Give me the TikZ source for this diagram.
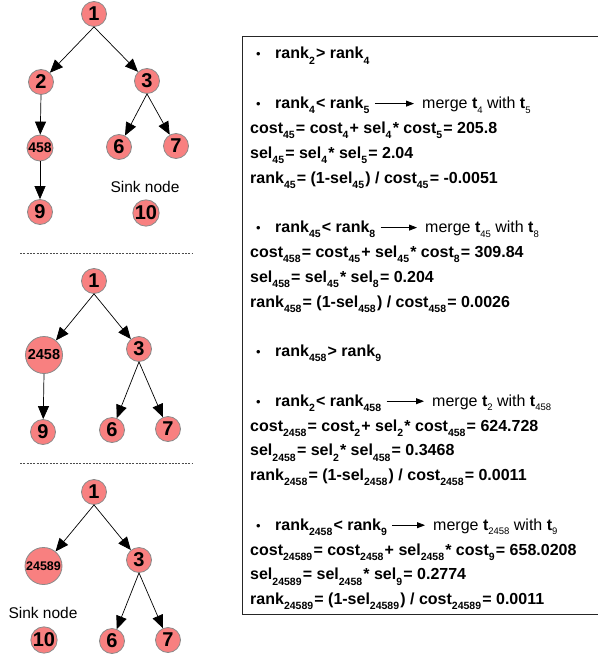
\documentclass[tikz,border=0pt]{standalone}
\usepackage{fontspec}
\setmainfont{Liberation Sans}
\usetikzlibrary{arrows.meta}
\definecolor{nodefill}{HTML}{F88080}
\definecolor{nodeline}{HTML}{8A8A8A}
\newcommand{\sbx}[1]{\raisebox{-5.2pt}{\fontsize{10.5}{10.5}\selectfont #1}\kern1.2pt}
\newcommand{\sbm}[1]{\raisebox{-4.5pt}{\fontsize{9.5}{9.5}\selectfont #1}}
\tikzset{
  tn/.style={circle, fill=nodefill, draw=nodeline, line width=0.8pt, minimum size=25pt, inner sep=0pt, font=\fontsize{20}{20}\selectfont\bfseries},
  tns/.style={tn, minimum size=26pt, font=\fontsize{14}{14}\selectfont\bfseries},
  tnb/.style={tn, minimum size=37pt, font=\fontsize{14.5}{14.5}\selectfont\bfseries},
  tnc/.style={tn, minimum size=37pt, font=\fontsize{12.5}{12.5}\selectfont\bfseries},
  edge/.style={-{Triangle[length=13pt,width=11pt]}, line width=0.7pt},
  sink/.style={font=\fontsize{15.5}{15.5}\selectfont},
  dashline/.style={draw=black!70, line width=0.7pt, dash pattern=on 2pt off 1.3pt},
  txt/.style={anchor=base west, inner sep=0pt, font=\fontsize{16}{16}\selectfont\bfseries},
  mtxt/.style={anchor=base west, inner sep=0pt, font=\fontsize{16}{16}\selectfont},
  bul/.style={anchor=base west, inner sep=0pt, font=\fontsize{13}{13}\selectfont},
  tarr/.style={-{Triangle[length=8pt,width=6pt]}, line width=0.8pt},
}
\begin{document}
\begin{tikzpicture}[x=1pt,y=1pt]
\useasboundingbox (0,0) rectangle (597,-655);
% ---------- tree 1
\node[tn] (a1) at (94,-14) {1};
\node[tn] (a2) at (41,-82) {2};
\node[tn] (a3) at (147,-81) {3};
\node[tns] (a458) at (40,-148) {458};
\node[tn] (a6) at (119,-147) {6};
\node[tn] (a7) at (176,-146) {7};
\node[tn] (a9) at (40,-212) {9};
\node[tn] (a10) at (146,-213) {10};
\node[sink] (as) at (145,-187) {Sink node};
\draw[edge] (a1.south) -- (a2);
\draw[edge] (a1.south) -- (a3);
\draw[edge] (a2.south) -- (a458);
\draw[edge] (a3.south) -- (a6);
\draw[edge] (a3.south) -- (a7);
\draw[edge] (a458.south) -- (a9);
\coordinate (d1l) at (20,-253);
\coordinate (d1r) at (192,-253);
\draw[dashline] (d1l) -- (d1r);
% ---------- tree 2
\node[tn] (b1) at (94,-281) {1};
\node[tnb] (b2) at (44,-355) {2458};
\node[tn] (b3) at (139,-349) {3};
\node[tn] (b9) at (43,-432) {9};
\node[tn] (b6) at (112,-430) {6};
\node[tn] (b7) at (168,-429) {7};
\draw[edge] (b1.south) -- (b2);
\draw[edge] (b1.south) -- (b3);
\draw[edge] (b2.south) -- (b9);
\draw[edge] (b3.south) -- (b6);
\draw[edge] (b3.south) -- (b7);
\coordinate (d2l) at (20,-463);
\coordinate (d2r) at (192,-463);
\draw[dashline] (d2l) -- (d2r);
% ---------- tree 3
\node[tn] (c1) at (94,-492) {1};
\node[tnc] (c2) at (43.5,-566) {24589};
\node[tn] (c3) at (139,-560) {3};
\node[sink] (cs) at (43,-613) {Sink node};
\node[tn] (c10) at (44,-640) {10};
\node[tn] (c6) at (112,-641) {6};
\node[tn] (c7) at (168,-640) {7};
\draw[edge] (c1.south) -- (c2);
\draw[edge] (c1.south) -- (c3);
\draw[edge] (c3.south) -- (c6);
\draw[edge] (c3.south) -- (c7);
% ---------- box
\draw[line width=0.9pt, draw=black!85] (242.5,-36.7) rectangle (640,-614);
% line 0
\node[bul] (p0) at (256,-59) {\textbullet};
\node[txt] (t0) at (275,-59) {rank\sbx{2}> rank\sbx{4}};
% block 2
\node[bul] (p2) at (256,-108.6) {\textbullet};
\node[txt] (t2) at (275,-108.6) {rank\sbx{4}< rank\sbx{5}};
\node[mtxt] (m2) at (422,-108.6) {merge \textbf{t}\sbm{4} with \textbf{t}\sbm{5}};
\draw[tarr] ([shift={(4pt,5pt)}]t2.base east) -- ([shift={(-8pt,5pt)}]m2.base west);
\node[txt] (t3) at (250,-133.4) {cost\sbx{45}= cost\sbx{4}+ sel\sbx{4}* cost\sbx{5}= 205.8};
\node[txt] (t4) at (250,-158.2) {sel\sbx{45}= sel\sbx{4}* sel\sbx{5}= 2.04};
\node[txt] (t5) at (250,-183) {rank\sbx{45}= (1-sel\sbx{45}) / cost\sbx{45}= -0.0051};
% block 3
\node[bul] (p7) at (256,-232.6) {\textbullet};
\node[txt] (t7) at (275,-232.6) {rank\sbx{45}< rank\sbx{8}};
\node[mtxt] (m7) at (425,-232.6) {merge \textbf{t}\sbm{45} with \textbf{t}\sbm{8}};
\draw[tarr] ([shift={(4pt,5pt)}]t7.base east) -- ([shift={(-8pt,5pt)}]m7.base west);
\node[txt] (t8) at (250,-257.4) {cost\sbx{458}= cost\sbx{45}+ sel\sbx{45}* cost\sbx{8}= 309.84};
\node[txt] (t9) at (250,-282.2) {sel\sbx{458}= sel\sbx{45}* sel\sbx{8}= 0.204};
\node[txt] (t10) at (250,-307) {rank\sbx{458}= (1-sel\sbx{458}) / cost\sbx{458}= 0.0026};
% block 4
\node[bul] (p12) at (256,-356.6) {\textbullet};
\node[txt] (t12) at (275,-356.6) {rank\sbx{458}> rank\sbx{9}};
% block 5
\node[bul] (p14) at (256,-406.2) {\textbullet};
\node[txt] (t14) at (275,-406.2) {rank\sbx{2}< rank\sbx{458}};
\node[mtxt] (m14) at (432,-406.2) {merge \textbf{t}\sbm{2} with \textbf{t}\sbm{458}};
\draw[tarr] ([shift={(4pt,5pt)}]t14.base east) -- ([shift={(-8pt,5pt)}]m14.base west);
\node[txt] (t15) at (250,-431) {cost\sbx{2458}= cost\sbx{2}+ sel\sbx{2}* cost\sbx{458}= 624.728};
\node[txt] (t16) at (250,-455.8) {sel\sbx{2458}= sel\sbx{2}* sel\sbx{458}= 0.3468};
\node[txt] (t17) at (250,-480.6) {rank\sbx{2458}= (1-sel\sbx{2458}) / cost\sbx{2458}= 0.0011};
% block 6
\node[bul] (p19) at (256,-530.2) {\textbullet};
\node[txt] (t19) at (275,-530.2) {rank\sbx{2458}< rank\sbx{9}};
\node[mtxt] (m19) at (433,-530.2) {merge \textbf{t}\sbm{2458} with \textbf{t}\sbm{9}};
\draw[tarr] ([shift={(4pt,5pt)}]t19.base east) -- ([shift={(-8pt,5pt)}]m19.base west);
\node[txt] (t20) at (250,-555) {cost\sbx{24589}= cost\sbx{2458}+ sel\sbx{2458}* cost\sbx{9}= 658.0208};
\node[txt] (t21) at (250,-579.8) {sel\sbx{24589}= sel\sbx{2458}* sel\sbx{9}= 0.2774};
\node[txt] (t22) at (250,-604.6) {rank\sbx{24589}= (1-sel\sbx{24589}) / cost\sbx{24589}= 0.0011};
\end{tikzpicture}
\end{document}
